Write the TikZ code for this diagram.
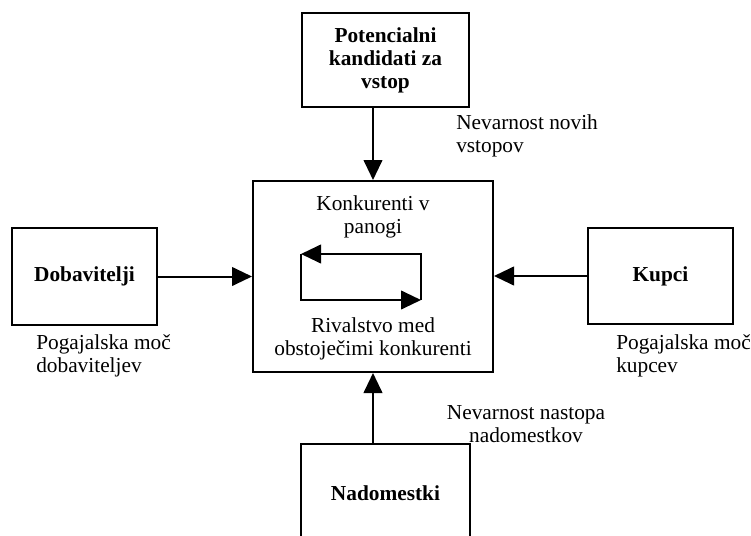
\documentclass[tikz,border=0pt]{standalone}
\usepackage{fontspec}
\setmainfont{Liberation Serif}
\usetikzlibrary{arrows.meta}
\begin{document}
\begin{tikzpicture}[x=0.75pt,y=-0.75pt,
  box/.style={draw,line width=1.5pt,inner sep=0pt,font=\fontsize{16pt}{17.25pt}\selectfont\bfseries,align=center},
  lbl/.style={inner sep=0pt,font=\fontsize{16pt}{17.25pt}\selectfont},
  flow/.style={line width=1.5pt,-{Triangle[length=15pt,width=14pt]}},
  loop/.style={line width=1.5pt,-{Triangle[length=15pt,width=14pt]}}]
\useasboundingbox (0,0) rectangle (751,536);
\clip (0,0) rectangle (751,536);

% five forces
\node[box,minimum width=125.25pt,minimum height=70.5pt] (entrants) at (385.5,60) {Potencialni\\kandidati za\\vstop};
\node[box,minimum width=180pt,minimum height=143.25pt] (rivals) at (373,276.5) {};
\node[box,minimum width=108.75pt,minimum height=72.75pt] (suppliers) at (84.5,276.5) {Dobavitelji};
\node[box,minimum width=108.75pt,minimum height=72pt] (buyers) at (660.5,276) {Kupci};
\node[box,minimum width=126.75pt,minimum height=90pt] (substitutes) at (385.5,504) {};
\node[lbl,font=\fontsize{16pt}{17.25pt}\selectfont\bfseries] (subtext) at (385.5,493) {Nadomestki};

% text inside the central box
\node[lbl,align=center] (industry) at (373,216.5) {Konkurenti v\\panogi};
\node[lbl,align=center] (rivalry) at (373,338.5) {Rivalstvo med\\obstoječimi konkurenti};

% rivalry loop
\coordinate (la) at (301,254);
\coordinate (lb) at (421,254);
\coordinate (lc) at (421,300);
\coordinate (ld) at (301,300);
\draw[loop] (lc) -- (lb) -- (la);
\draw[loop] (la) -- (ld) -- (lc);

% forces acting on the industry
\draw[flow] (entrants.south -| rivals.north) -- (rivals.north);
\draw[flow] (substitutes.north -| rivals.south) -- (rivals.south);
\draw[flow] (suppliers.east) -- (suppliers.east -| rivals.west);
\draw[flow] (buyers.west) -- (buyers.west -| rivals.east);

% force labels
\node[lbl,align=left,anchor=west] (newentry) at (456,136) {Nevarnost novih\\vstopov};
\node[lbl,align=center] (subthreat) at (526,424.5) {Nevarnost nastopa\\nadomestkov};
\node[lbl,align=left,anchor=west] (supplierpower) at (36,355.5) {Pogajalska moč\\dobaviteljev};
\node[lbl,align=left,anchor=west] (buyerpower) at (616,355.5) {Pogajalska moč\\kupcev};
\end{tikzpicture}
\end{document}
